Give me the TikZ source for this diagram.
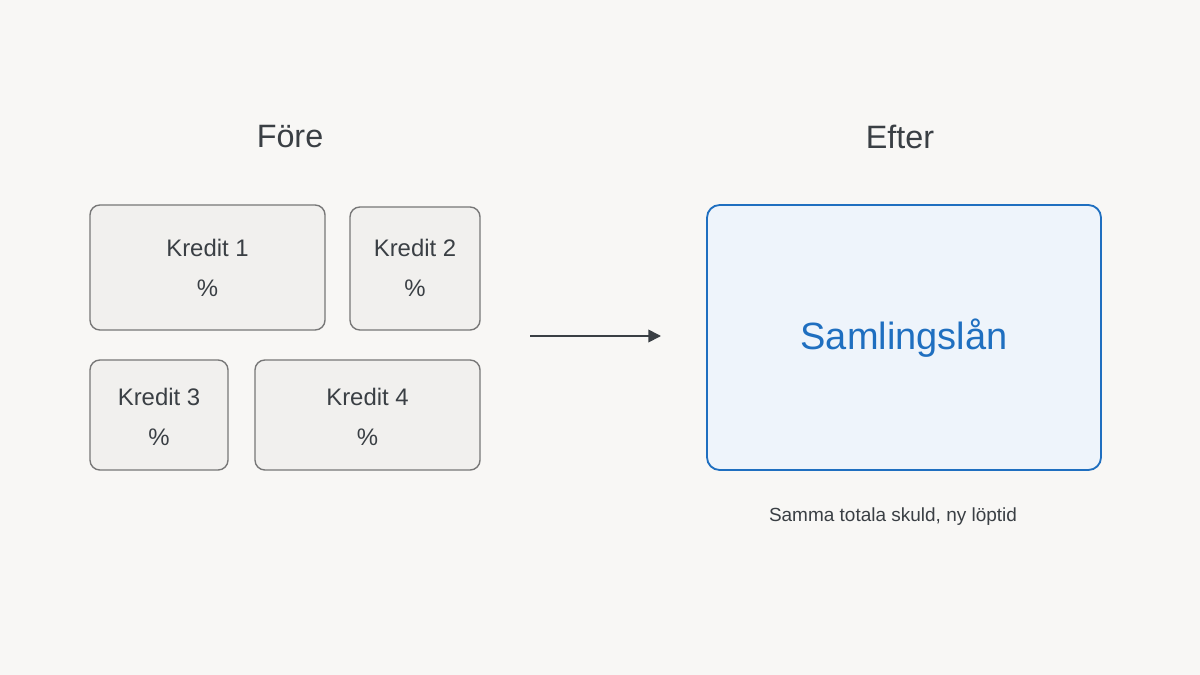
\documentclass[tikz,border=0pt]{standalone}
\usepackage{fontspec}
\setmainfont{Liberation Sans}
\usetikzlibrary{arrows.meta}
\definecolor{bg}{HTML}{F8F7F5}
\definecolor{boxf}{HTML}{F1F0EE}
\definecolor{boxd}{HTML}{777777}
\definecolor{txt}{HTML}{3A3F44}
\definecolor{blu}{HTML}{1F6FC0}
\definecolor{bluf}{HTML}{EEF4FB}
\begin{document}
\begin{tikzpicture}[x=0.025cm,y=-0.025cm,
  kb/.style={draw=boxd,fill=boxf,rounded corners=7pt,line width=1pt},
  kt/.style={text=txt,font=\fontsize{17}{20}\selectfont,align=center},
  ttl/.style={text=txt,font=\fontsize{23}{27}\selectfont}]
\fill[bg] (0,0) rectangle (1200,675);
\node[ttl] (fore) at (290,137) {Före};
\node[ttl] (efter) at (900,137) {Efter};
\draw[kb] (90,205) rectangle (325,330);
\node[kt] (k1) at (207.5,268) {Kredit 1\\[8pt]\%};
\draw[kb] (350,207) rectangle (480,330);
\node[kt] (k2) at (415,268) {Kredit 2\\[8pt]\%};
\draw[kb] (90,360) rectangle (228,470);
\node[kt] (k3) at (159,417) {Kredit 3\\[8pt]\%};
\draw[kb] (255,360) rectangle (480,470);
\node[kt] (k4) at (367.5,417) {Kredit 4\\[8pt]\%};
\coordinate (a1) at (530,336);
\coordinate (a2) at (661,336);
\draw[line width=1.2pt,txt,-{Triangle[length=9pt,width=9pt]}] (a1) -- (a2);
\draw[draw=blu,fill=bluf,rounded corners=9pt,line width=1.3pt] (707,205) rectangle (1101,470);
\node[text=blu,font=\fontsize{27}{32}\selectfont] (s) at (904,338) {Samlingslån};
\node[text=txt,font=\fontsize{13.5}{16}\selectfont] (sub) at (893,517) {Samma totala skuld, ny löptid};
\end{tikzpicture}
\end{document}
